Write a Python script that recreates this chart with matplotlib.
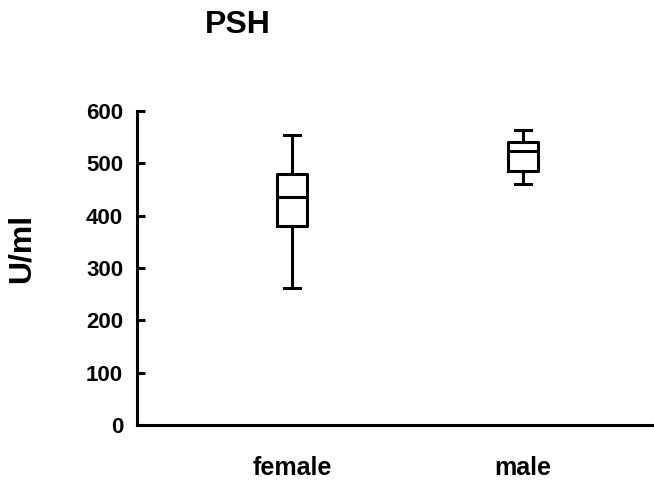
import matplotlib
matplotlib.use('Agg')
import matplotlib.pyplot as plt

plt.rcParams['font.family'] = ['Liberation Sans', 'DejaVu Sans']
plt.rcParams['font.weight'] = 'bold'

# box statistics (U/ml)
groups = ['female', 'male']
whis_lo = [262, 461]
q1 = [380, 486]
med = [436, 524]
q3 = [480, 541]
whis_hi = [554, 564]
yticks = [0, 100, 200, 300, 400, 500, 600]

stats = []
for i in range(len(groups)):
    stats.append(dict(label=groups[i], whislo=whis_lo[i], q1=q1[i], med=med[i],
                      q3=q3[i], whishi=whis_hi[i], fliers=[]))

fig = plt.figure(figsize=(6.54, 4.82), dpi=100)
ax = fig.add_axes([137/654, 1-425/482, 1-137/654, (425-111)/482])

lw = 2.2
ax.bxp(stats, positions=[1, 2], widths=0.13, showfliers=False,
       boxprops=dict(color='black', linewidth=lw),
       medianprops=dict(color='black', linewidth=lw),
       whiskerprops=dict(color='black', linewidth=lw),
       capprops=dict(color='black', linewidth=lw),
       capwidths=0.07)

ax.set_xlim(1-155/231, 2+131/231)
ax.set_ylim(0, 600)
ax.set_yticks(yticks)
ax.set_xticks([1, 2])
ax.set_xticklabels(groups)

for s in ['top', 'right']:
    ax.spines[s].set_visible(False)
for s in ['left', 'bottom']:
    ax.spines[s].set_linewidth(lw)

ax.tick_params(axis='y', direction='in', length=6, width=lw, labelsize=16, pad=10)
ax.tick_params(axis='x', length=0, labelsize=18, pad=22)

fig.text(22/654, 1-248/482, 'U/ml', rotation=90, ha='center', va='center',
         fontsize=23, fontweight='bold')
fig.text(238/654, 1-25/482, 'PSH', ha='center', va='center',
         fontsize=23, fontweight='bold')

fig.savefig('out.png', dpi=100)
